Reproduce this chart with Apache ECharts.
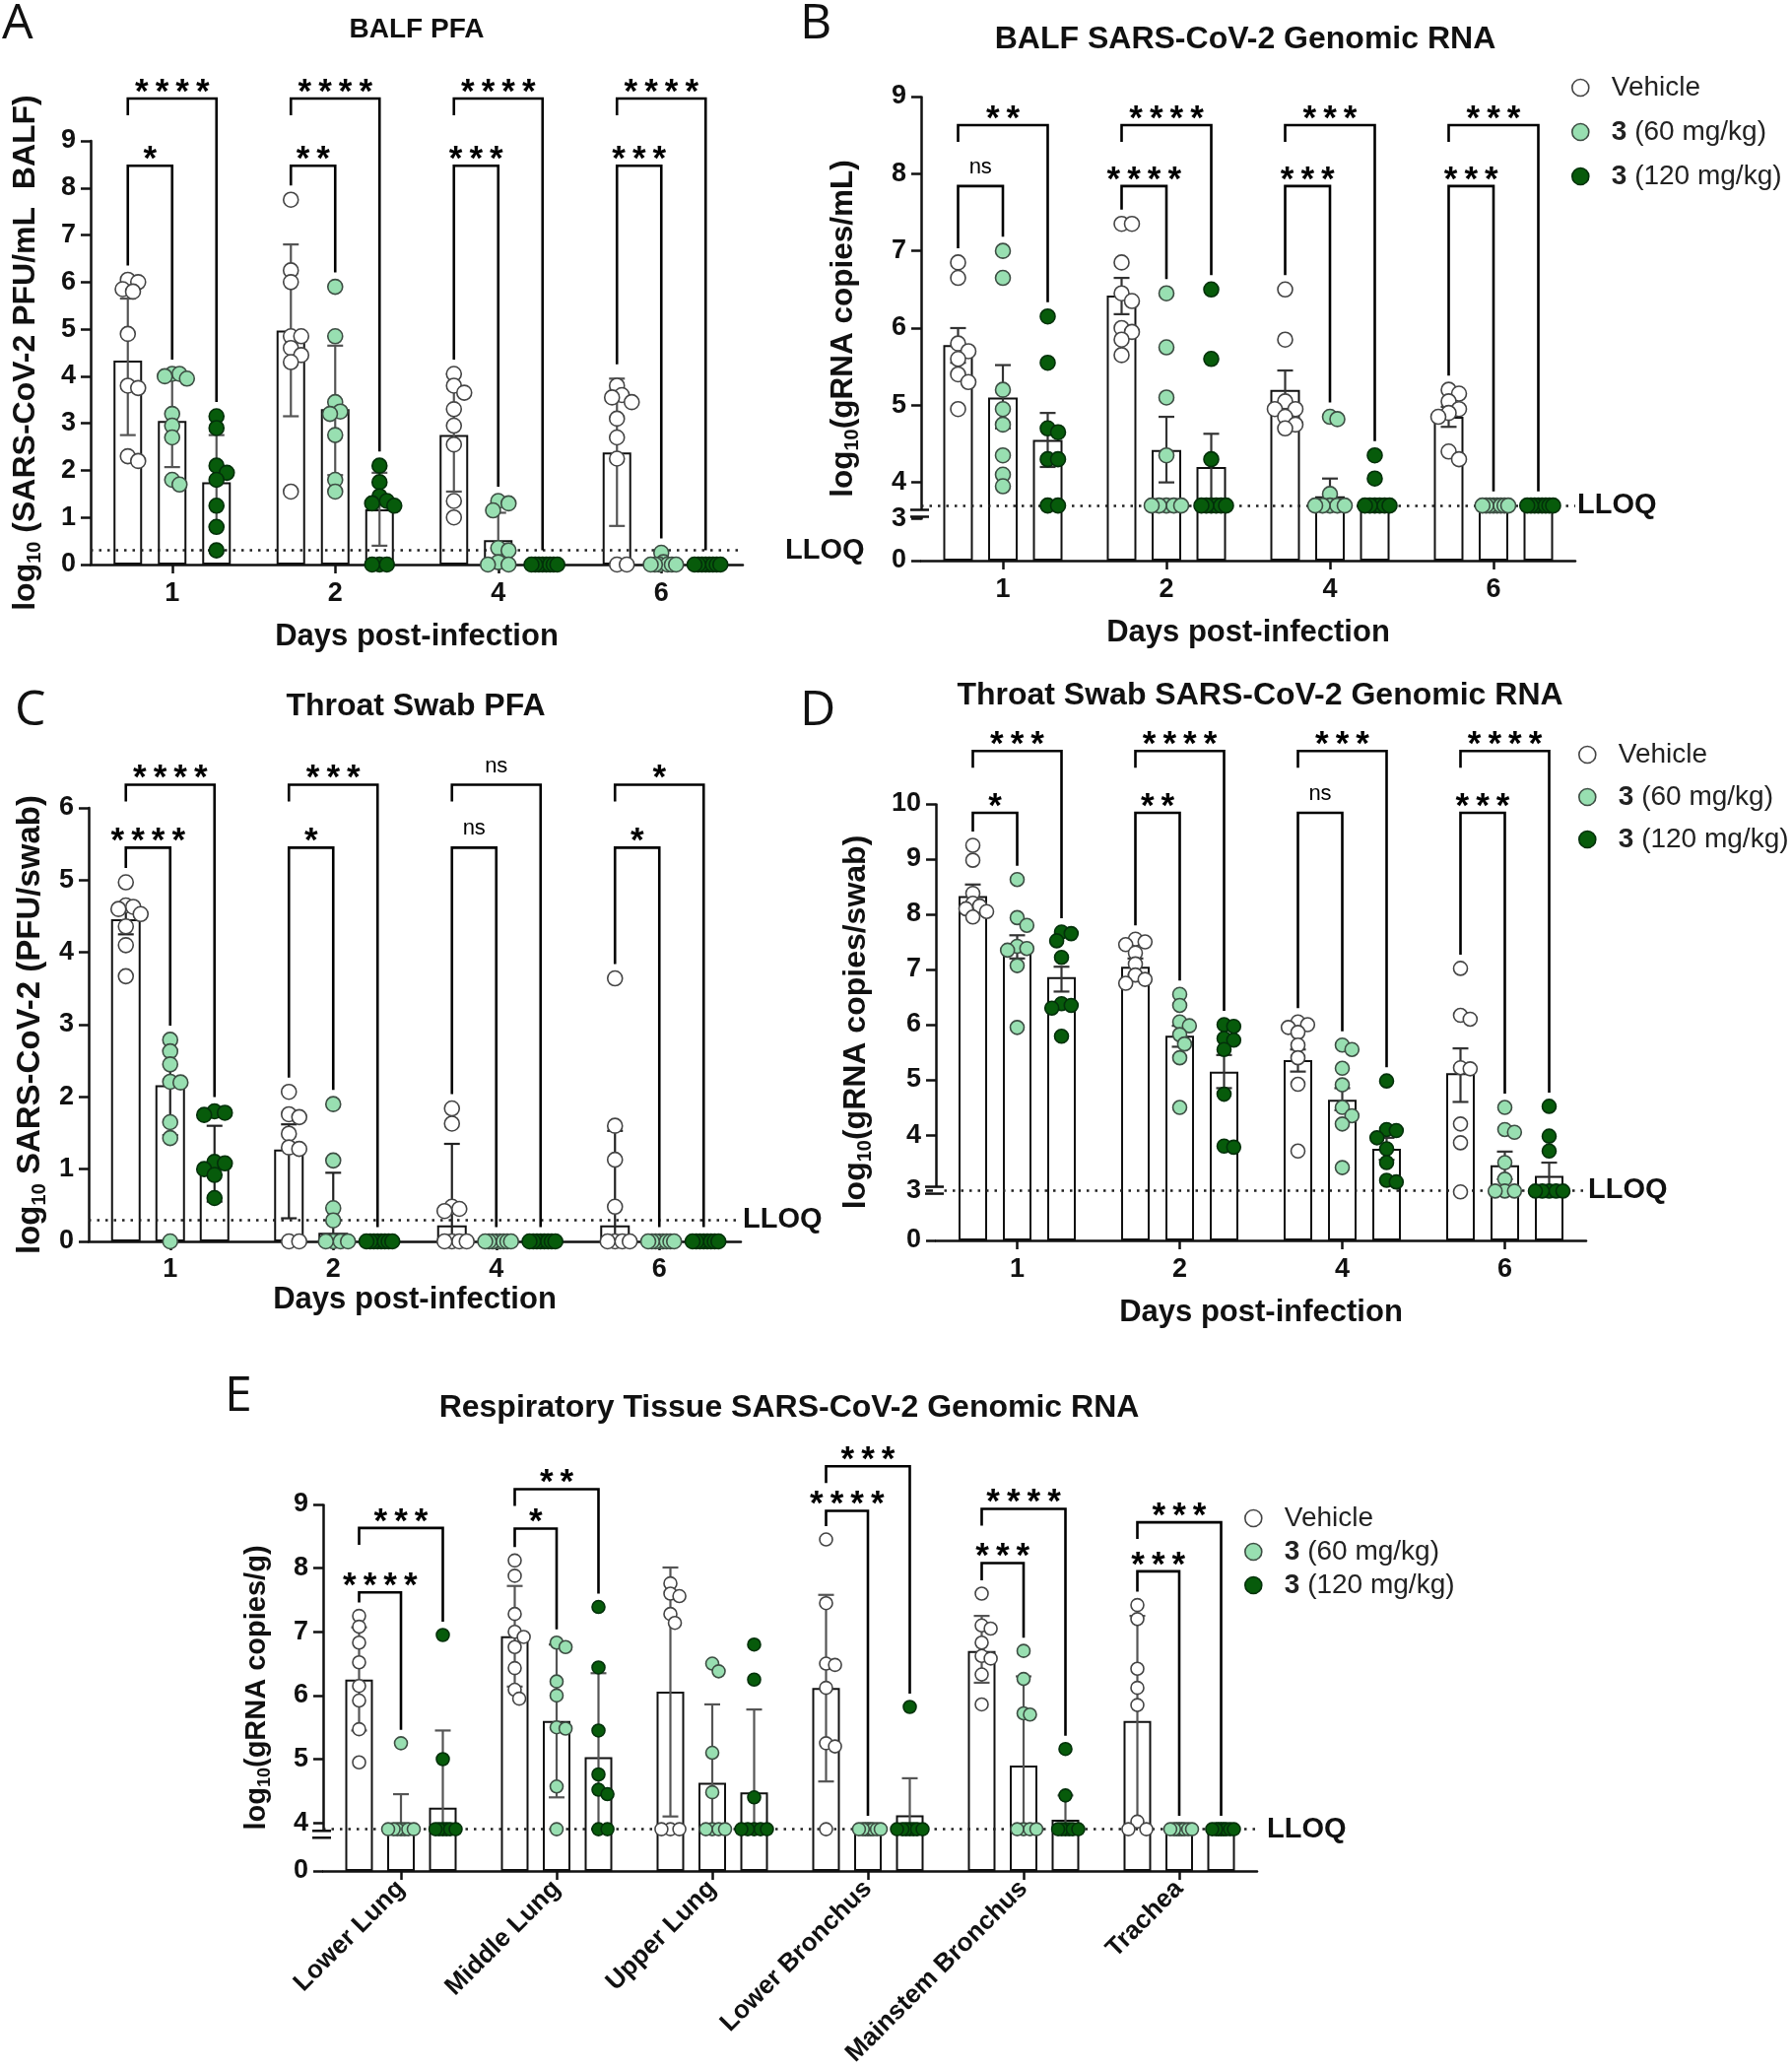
<!DOCTYPE html>
<html>
<head>
<meta charset="utf-8">
<script src="https://cdn.jsdelivr.net/npm/echarts@6.0.0/dist/echarts.min.js"></script>
<style>
html,body{margin:0;padding:0;background:#fff;}
#chart{width:1819px;height:2100px;}
</style>
</head>
<body>
<div id="chart"></div>
<script>
// ======================= DATA =======================
const days = ['1', '2', '4', '6'];
const tissues = ['Lower Lung', 'Middle Lung', 'Upper Lung', 'Lower Bronchus', 'Mainstem Bronchus', 'Trachea'];
const groupNames = ['Vehicle', '3 (60 mg/kg)', '3 (120 mg/kg)'];

// ---- Panel A: BALF PFA (log10 PFU/mL) ----
const A_yTicks = [0, 1, 2, 3, 4, 5, 6, 7, 8, 9];
const A_mean = [[4.33, 4.97, 2.75, 2.38], [3.05, 3.30, 0.52, 0.05], [1.75, 1.17, 0, 0]];
const A_lo   = [[2.75, 3.15, 1.55, 0.82], [2.07, 1.90, 0, 0], [0.80, 0.40, 0, 0]];
const A_hi   = [[5.65, 6.80, 4.05, 3.95], [4.05, 4.65, 1.10, 0.12], [2.75, 1.95, 0, 0]];
const A_pts = [
  [[6.05, 6.0, 5.85, 5.8, 4.9, 3.8, 3.75, 2.3, 2.2],
   [7.75, 6.25, 6.0, 4.85, 4.85, 4.6, 4.45, 4.3, 1.55],
   [4.05, 3.8, 3.65, 3.3, 2.95, 2.55, 1.35, 1.0],
   [3.8, 3.6, 3.55, 3.45, 3.1, 2.7, 2.25, 0, 0]],
  [[4.05, 4.05, 4.0, 3.95, 3.2, 2.95, 2.7, 1.8, 1.7],
   [5.9, 4.85, 3.45, 3.25, 3.2, 2.75, 1.8, 1.55],
   [1.35, 1.3, 1.15, 0.35, 0.3, 0.05, 0, 0],
   [0.25, 0.05, 0, 0, 0, 0, 0, 0]],
  [[3.15, 2.9, 2.1, 1.95, 1.8, 1.25, 0.8, 0.3],
   [2.1, 1.75, 1.45, 1.35, 1.3, 1.25, 0, 0, 0],
   [0, 0, 0, 0, 0, 0, 0, 0],
   [0, 0, 0, 0, 0, 0, 0, 0]]
];
const A_sig = [['*', '****'], ['**', '****'], ['***', '****'], ['***', '****']];
const A_sigLevel = [8.47, 9.9];
const A_lloq = 0.3;

// ---- Panel B: BALF genomic RNA (log10 copies/mL) ----
const B_yTicks = [0, 3, 4, 5, 6, 7, 8, 9];
const B_mean = [[5.78, 6.42, 5.20, 4.85], [5.10, 4.42, 3.82, 3.70], [4.55, 4.20, 3.72, 3.70]];
const B_lo   = [[5.55, 6.18, 4.95, 4.72], [4.70, 4.00, 3.70, 3.70], [4.20, 3.78, 3.70, 3.70]];
const B_hi   = [[6.00, 6.65, 5.45, 4.98], [5.52, 4.85, 4.05, 3.70], [4.90, 4.63, 3.78, 3.70]];
const B_pts = [
  [[6.85, 6.65, 5.8, 5.7, 5.6, 5.4, 5.3, 4.95],
   [7.35, 7.35, 6.85, 6.45, 6.35, 6.0, 5.95, 5.85, 5.65],
   [6.5, 5.85, 5.05, 4.95, 4.95, 4.85, 4.75, 4.7],
   [5.2, 5.15, 5.05, 4.95, 4.9, 4.85, 4.4, 4.3]],
  [[7.0, 6.65, 5.2, 4.95, 4.75, 4.35, 4.1, 3.95],
   [6.45, 5.75, 5.1, 4.35, 3.7, 3.7, 3.7, 3.7, 3.7],
   [4.85, 4.82, 3.85, 3.7, 3.7, 3.7, 3.7, 3.7],
   [3.7, 3.7, 3.7, 3.7, 3.7, 3.7, 3.7, 3.7]],
  [[6.15, 5.55, 4.7, 4.65, 4.3, 4.3, 3.7, 3.7],
   [6.5, 5.6, 4.3, 3.7, 3.7, 3.7, 3.7, 3.7, 3.7],
   [4.35, 4.05, 3.7, 3.7, 3.7, 3.7, 3.7, 3.7],
   [3.7, 3.7, 3.7, 3.7, 3.7, 3.7, 3.7, 3.7]]
];
const B_sig = [['ns', '**'], ['****', '****'], ['***', '***'], ['***', '***']];
const B_sigLevel = [7.84, 8.63];
const B_lloq = 3.7;

// ---- Panel C: Throat swab PFA (log10 PFU/swab) ----
const C_yTicks = [0, 1, 2, 3, 4, 5, 6];
const C_mean = [[4.46, 1.27, 0.22, 0.22], [2.16, 0.12, 0, 0], [1.07, 0, 0, 0]];
const C_lo   = [[4.25, 0.32, 0, 0], [1.47, 0, 0, 0], [0.55, 0, 0, 0]];
const C_hi   = [[4.65, 1.62, 1.35, 1.53], [2.65, 0.95, 0, 0], [1.60, 0, 0, 0]];
const C_pts = [
  [[4.97, 4.65, 4.63, 4.6, 4.53, 4.36, 4.1, 3.67],
   [2.07, 1.76, 1.72, 1.49, 1.3, 1.28, 0, 0],
   [1.84, 1.63, 0.48, 0.45, 0.42, 0, 0, 0, 0],
   [3.64, 1.6, 1.13, 0.48, 0, 0, 0, 0]],
  [[2.79, 2.63, 2.45, 2.21, 2.2, 1.65, 1.43, 0],
   [1.9, 1.12, 0.46, 0.29, 0, 0, 0, 0],
   [0, 0, 0, 0, 0, 0, 0, 0],
   [0, 0, 0, 0, 0, 0, 0, 0]],
  [[1.8, 1.78, 1.75, 1.1, 1.08, 1.0, 0.92, 0.6],
   [0, 0, 0, 0, 0, 0, 0, 0],
   [0, 0, 0, 0, 0, 0, 0, 0],
   [0, 0, 0, 0, 0, 0, 0, 0]]
];
const C_sig = [['****', '****'], ['*', '***'], ['ns', 'ns'], ['*', '*']];
const C_sigLevel = [5.45, 6.32];
const C_lloq = 0.3;

// ---- Panel D: Throat swab genomic RNA (log10 copies/swab) ----
const D_yTicks = [0, 3, 4, 5, 6, 7, 8, 9, 10];
const D_mean = [[8.33, 7.05, 5.36, 5.12], [7.41, 5.80, 4.64, 3.45], [6.86, 5.15, 3.75, 3.26]];
const D_lo   = [[8.15, 6.90, 5.15, 4.60], [7.20, 5.60, 4.45, 3.20], [6.60, 4.85, 3.55, 3.00]];
const D_hi   = [[8.54, 7.20, 5.55, 5.57], [7.62, 5.98, 4.85, 3.70], [7.05, 5.45, 3.95, 3.50]];
const D_pts = [
  [[9.25, 8.98, 8.38, 8.2, 8.15, 8.1, 8.05, 7.95],
   [7.55, 7.5, 7.45, 7.3, 7.1, 6.9, 6.82, 6.75],
   [6.05, 6.0, 5.95, 5.86, 5.63, 5.4, 4.92, 3.71],
   [7.02, 6.17, 6.1, 5.22, 5.2, 4.2, 3.86, 2.9]],
  [[8.63, 7.94, 7.8, 7.42, 7.38, 7.35, 7.07, 5.95],
   [6.55, 6.35, 6.05, 5.98, 5.82, 5.65, 5.4, 4.5],
   [5.63, 5.55, 5.21, 4.91, 4.5, 4.35, 4.2, 3.41],
   [4.5, 4.1, 4.05, 3.5, 3.2, 2.95, 2.95, 2.95]],
  [[7.68, 7.65, 7.52, 7.22, 6.38, 6.35, 6.3, 5.79],
   [6.0, 5.97, 5.75, 5.72, 5.55, 4.74, 3.8, 3.78],
   [4.98, 4.1, 4.08, 3.95, 3.75, 3.5, 3.18, 3.15],
   [4.52, 3.98, 3.71, 2.95, 2.95, 2.95, 2.95, 2.95]]
];
const D_sig = [['*', '***'], ['**', '****'], ['ns', '***'], ['***', '****']];
const D_sigLevel = [9.84, 10.96];
const D_lloq = 3.0;

// ---- Panel E: Respiratory tissue genomic RNA (log10 copies/g) ----
const E_yTicks = [0, 4, 5, 6, 7, 8, 9];
const E_mean = [[6.25, 6.93, 6.06, 6.12, 6.70, 5.60], [3.90, 5.60, 4.63, 3.90, 4.90, 3.90], [4.24, 5.03, 4.48, 4.12, 4.05, 3.90]];
const E_lo   = [[5.45, 6.14, 4.10, 4.65, 6.20, 3.95], [3.90, 4.40, 3.90, 3.90, 3.90, 3.90], [3.90, 3.90, 3.90, 3.90, 3.90, 3.90]];
const E_hi   = [[7.07, 7.72, 8.01, 7.58, 7.25, 7.25], [4.45, 6.80, 5.86, 3.90, 6.30, 3.90], [5.45, 6.35, 5.78, 4.70, 4.43, 3.90]];
const E_pts = [
  [[7.25, 7.08, 6.83, 6.52, 6.15, 5.92, 5.47, 4.95],
   [8.12, 7.88, 7.28, 7.0, 6.92, 6.76, 6.43, 6.09, 5.95],
   [7.76, 7.6, 7.56, 7.28, 7.14, 3.9, 3.9, 3.9],
   [8.45, 7.45, 6.5, 6.48, 6.12, 5.25, 5.2, 3.9],
   [7.6, 7.1, 7.05, 6.83, 6.62, 6.58, 6.33, 5.86],
   [7.42, 7.2, 6.42, 6.12, 5.85, 4.02, 3.9, 3.9]],
  [[5.25, 3.9, 3.9, 3.9, 3.9, 3.9, 3.9, 3.9],
   [6.83, 6.76, 6.22, 6.0, 5.5, 5.48, 4.57, 3.9],
   [6.5, 6.38, 5.1, 4.48, 3.9, 3.9, 3.9, 3.9],
   [3.9, 3.9, 3.9, 3.9, 3.9, 3.9, 3.9, 3.9],
   [6.7, 6.26, 5.72, 5.7, 3.9, 3.9, 3.9, 3.9],
   [3.9, 3.9, 3.9, 3.9, 3.9, 3.9, 3.9, 3.9]],
  [[6.95, 5.0, 3.9, 3.9, 3.9, 3.9, 3.9, 3.9],
   [7.39, 6.44, 5.45, 4.76, 4.52, 4.45, 3.9, 3.9],
   [6.8, 6.25, 4.4, 3.9, 3.9, 3.9, 3.9, 3.9],
   [5.82, 3.9, 3.9, 3.9, 3.9, 3.9, 3.9, 3.9],
   [5.16, 4.43, 3.9, 3.9, 3.9, 3.9, 3.9, 3.9],
   [3.9, 3.9, 3.9, 3.9, 3.9, 3.9, 3.9, 3.9]]
];
const E_sig = [['****', '***'], ['*', '**'], null, ['****', '***'], ['***', '****'], ['***', '***']];
const E_sigLevel = [[7.62, 8.63], [8.62, 9.24], null, [8.9, 9.6], [8.08, 8.93], [7.95, 8.72]];
const E_lloq = 3.9;

// ======================= STYLE / LAYOUT =======================
const FONT = '"Liberation Sans", Arial, Helvetica, sans-serif';
const DOT_STYLE = [
  { fill: '#ffffff', stroke: '#444444' },
  { fill: '#98dfb1', stroke: '#3d4d43' },
  { fill: '#075b0b', stroke: '#03300a' }
];
const ynm = (rest) => '{a|log}{s|10}{a|' + rest + '}';

const PANELS = [
  { cats: days, ticks: A_yTicks, mean: A_mean, lo: A_lo, hi: A_hi, pts: A_pts, sig: A_sig, lvl: A_sigLevel, lloq: A_lloq,
    L: { left: 92, top: 143, width: 662, height: 430, max: 9, breaks: null, floor: 0,
         barW: 29, step: 45, dot: 15, ppu: 47.8, maxOff: 15, err: '#555',
         yName: ynm(' (SARS-CoV-2 PFU/mL  BALF)'), yNameSize: 32, yNameGap: 47,
         xName: 'Days post-infection', xNameGap: 58, xLabelSize: 27, xLabelMargin: 16, rot: 0, lloqDist: 43 } },
  { cats: days, ticks: B_yTicks, mean: B_mean, lo: B_lo, hi: B_hi, pts: B_pts, sig: B_sig, lvl: B_sigLevel, lloq: B_lloq,
    L: { left: 935, top: 98, width: 664, height: 471, max: 9, floor: 3.7,
         breaks: [{ start: 0, end: 3, gap: '9.1%' }, { start: 3.05, end: 3.62, gap: '0.6%' }], breakMark: 3.3,
         barW: 30, step: 45.5, dot: 15, ppu: 78.3, maxOff: 15, err: '#333',
         yName: ynm('(gRNA copies/mL)'), yNameSize: 31.5, yNameGap: 60,
         xName: 'Days post-infection', xNameGap: 58, xLabelSize: 27, xLabelMargin: 16, rot: 0, lloqDist: 2,
         legend: { left: 1590, top: 70, gap: 17 } } },
  { cats: days, ticks: C_yTicks, mean: C_mean, lo: C_lo, hi: C_hi, pts: C_pts, sig: C_sig, lvl: C_sigLevel, lloq: C_lloq,
    L: { left: 90, top: 820, width: 662, height: 440, max: 6, breaks: null, floor: 0,
         barW: 30, step: 45, dot: 15, ppu: 73.3, maxOff: 15, err: '#222',
         yName: ynm(' SARS-CoV-2 (PFU/swab)'), yNameSize: 33, yNameGap: 40,
         xName: 'Days post-infection', xNameGap: 44, xLabelSize: 27, xLabelMargin: 15, rot: 0, lloqDist: 2 } },
  { cats: days, ticks: D_yTicks, mean: D_mean, lo: D_lo, hi: D_hi, pts: D_pts, sig: D_sig, lvl: D_sigLevel, lloq: D_lloq,
    L: { left: 950, top: 816, width: 660, height: 443, max: 10, floor: 2.95,
         breaks: [{ start: 0, end: 3, gap: '11.5%' }], breakMark: 3,
         barW: 29, step: 45, dot: 14, ppu: 56, maxOff: 14, err: '#333',
         yName: ynm('(gRNA copies/swab)'), yNameSize: 32, yNameGap: 62,
         xName: 'Days post-infection', xNameGap: 58, xLabelSize: 27, xLabelMargin: 16, rot: 0, lloqDist: 2,
         legend: { left: 1597, top: 747, gap: 15 } } },
  { cats: tissues, ticks: E_yTicks, mean: E_mean, lo: E_lo, hi: E_hi, pts: E_pts, sig: E_sig, lvl: E_sigLevel, lloq: E_lloq,
    L: { left: 328, top: 1527, width: 948, height: 372, max: 9, floor: 3.9,
         breaks: [{ start: 0, end: 3.82, gap: '10%' }], breakMark: 3.82,
         barW: 28, step: 42.5, dot: 13, ppu: 64.6, maxOff: 13, err: '#555',
         yName: ynm('(gRNA copies/g)'), yNameSize: 29, yNameGap: 50,
         xName: '', xNameGap: 0, xLabelSize: 26, xLabelMargin: 14, rot: 45, lloqDist: 10,
         legend: { left: 1258, top: 1522, gap: 6 } } }
];

// beeswarm-style horizontal spread of overlapping dots (layout only)
function swarm(vals, ppu, d, maxOff) {
  const minD = 0.7 * d, st = 0.35 * d;
  const placed = [], offs = [];
  vals.forEach(v => {
    const y = v * ppu;
    let chosen = 0;
    for (let k = 0; k < 60; k++) {
      const m = k === 0 ? 0 : (k % 2 ? 1 : -1) * Math.ceil(k / 2);
      const x = m * st;
      if (placed.every(p => Math.hypot(p[0] - x, p[1] - y) >= minD)) { chosen = x; break; }
    }
    placed.push([chosen, y]);
    offs.push(chosen);
  });
  const mx = Math.max(0, ...offs.map(Math.abs));
  const s = mx > maxOff ? maxOff / mx : 1;
  return offs.map(o => o * s);
}
function colMax(P, g, c) {
  return Math.max(P.mean[g][c], P.hi[g][c], ...P.pts[g][c]);
}

// ======================= OPTION =======================
const option = {
  animation: false,
  backgroundColor: '#ffffff',
  grid: [], xAxis: [], yAxis: [], series: [], legend: []
};

PANELS.forEach((P, pi) => {
  const L = P.L;
  const ax = { xAxisIndex: pi, yAxisIndex: pi };
  option.grid.push({ left: L.left, top: L.top, width: L.width, height: L.height });
  option.xAxis.push({
    type: 'category', gridIndex: pi, data: P.cats,
    name: L.xName, nameLocation: 'middle', nameGap: L.xNameGap,
    nameTextStyle: { fontFamily: FONT, fontWeight: 'bold', fontSize: 31, color: '#111' },
    axisLine: { show: true, lineStyle: { color: '#111', width: 2.5 } },
    axisTick: { show: true, alignWithLabel: true, length: 9, lineStyle: { color: '#111', width: 2.5 } },
    axisLabel: { interval: 0, rotate: L.rot, margin: L.xLabelMargin, fontFamily: FONT, fontWeight: 'bold',
                 fontSize: L.xLabelSize, color: '#111' },
    splitLine: { show: false }
  });
  const y = {
    type: 'value', gridIndex: pi, min: 0, max: L.max, interval: 1,
    name: L.yName, nameLocation: 'middle', nameRotate: 90, nameGap: L.yNameGap,
    nameTextStyle: {
      rich: {
        a: { fontFamily: FONT, fontWeight: 'bold', fontSize: L.yNameSize, color: '#111', lineHeight: L.yNameSize + 6 },
        s: { fontFamily: FONT, fontWeight: 'bold', fontSize: Math.round(L.yNameSize * 0.62), color: '#111',
             lineHeight: L.yNameSize + 6, verticalAlign: 'bottom' }
      }
    },
    axisLine: { show: true, lineStyle: { color: '#111', width: 2.5 } },
    axisTick: { show: true, length: 10, customValues: P.ticks, lineStyle: { color: '#111', width: 2.5 } },
    axisLabel: { margin: 15, customValues: P.ticks, fontFamily: FONT, fontWeight: 'bold', fontSize: 27, color: '#111',
                 formatter: (v) => String(Math.round(v)) },
    splitLine: { show: false }
  };
  if (L.breaks) { y.breaks = L.breaks; y.breakArea = { show: false }; }
  option.yAxis.push(y);

  // bars (means)
  const gapPct = ((L.step - L.barW) / L.barW * 100).toFixed(1) + '%';
  for (let g = 0; g < 3; g++) {
    const s = {
      type: 'bar', name: groupNames[g] + ' mean', ...ax, data: P.mean[g],
      barWidth: L.barW, barGap: gapPct, z: 2, silent: true,
      itemStyle: { color: '#ffffff', borderColor: '#111', borderWidth: 2 }
    };
    if (g === 0) {
      s.markLine = {
        silent: true, symbol: ['none', 'none'], animation: false,
        data: [{ yAxis: P.lloq }],
        lineStyle: { type: [2.5, 6], color: '#222', width: 2.5 },
        label: { show: true, position: 'end', formatter: 'LLOQ', distance: L.lloqDist,
                 fontFamily: FONT, fontWeight: 'bold', fontSize: 29, color: '#111' }
      };
    }
    option.series.push(s);
  }

  // error bars
  const errData = [];
  for (let g = 0; g < 3; g++) {
    P.cats.forEach((_, c) => {
      if (P.hi[g][c] - P.lo[g][c] > 0.005) errData.push([c, g, P.lo[g][c], P.hi[g][c]]);
    });
  }
  option.series.push({
    type: 'custom', name: 'err' + pi, ...ax, data: errData, encode: { x: 0, y: [2, 3] }, z: 3, silent: true,
    renderItem: (params, api) => {
      const c = api.value(0), g = api.value(1), lo = api.value(2), hi = api.value(3);
      const x = api.coord([c, 0])[0] + (g - 1) * L.step;
      const yh = api.coord([c, hi])[1], yl = api.coord([c, lo])[1];
      const st = { stroke: L.err, lineWidth: 2.2 };
      const ch = [
        { type: 'line', shape: { x1: x, y1: yl, x2: x, y2: yh }, style: st },
        { type: 'line', shape: { x1: x - 8, y1: yh, x2: x + 8, y2: yh }, style: st }
      ];
      if (lo > L.floor + 1e-6) ch.push({ type: 'line', shape: { x1: x - 8, y1: yl, x2: x + 8, y2: yl }, style: st });
      return { type: 'group', children: ch };
    }
  });

  // individual animals
  for (let g = 0; g < 3; g++) {
    const data = [];
    P.pts[g].forEach((vals, c) => {
      const offs = swarm(vals, L.ppu, L.dot, L.maxOff);
      vals.forEach((v, i) => data.push([c, v, offs[i]]));
    });
    const ds = DOT_STYLE[g];
    option.series.push({
      type: 'custom', name: groupNames[g], ...ax, data, encode: { x: 0, y: 1 }, z: 5,
      renderItem: (params, api) => {
        const p = api.coord([api.value(0), api.value(1)]);
        return { type: 'circle', shape: { cx: p[0] + (g - 1) * L.step + api.value(2), cy: p[1], r: L.dot / 2 },
                 style: { fill: ds.fill, stroke: ds.stroke, lineWidth: 1.6 } };
      }
    });
  }

  // significance brackets
  const brData = [];
  P.sig.forEach((s, c) => {
    if (!s) return;
    const lv = Array.isArray(P.lvl[0]) || P.lvl[0] === null ? P.lvl[c] : P.lvl;
    brData.push([c, 0, 1, lv[0], 0]);
    brData.push([c, 0, 2, lv[1], 1]);
  });
  option.series.push({
    type: 'custom', name: 'sig' + pi, ...ax, data: brData, encode: { x: 0, y: 3 }, z: 6, silent: true,
    renderItem: (params, api) => {
      const c = api.value(0), a = api.value(1), b = api.value(2), lv = api.value(3), w = api.value(4);
      const cx = api.coord([c, 0])[0];
      const xa = cx + (a - 1) * L.step, xb = cx + (b - 1) * L.step;
      const yTop = api.coord([c, lv])[1];
      const colTop = (g) => api.coord([c, colMax(P, g, c)])[1] - L.dot / 2 - 7;
      let yA = w === 1 ? yTop + 17 : colTop(a);
      let yB = colTop(b);
      yA = Math.max(yA, yTop + 8); yB = Math.max(yB, yTop + 8);
      const label = P.sig[c][w];
      const ns = label === 'ns';
      return {
        type: 'group', children: [
          { type: 'polyline', shape: { points: [[xa, yA], [xa, yTop], [xb, yTop], [xb, yB]] },
            style: { stroke: '#000', lineWidth: 2.6, fill: null } },
          { type: 'text', style: {
              x: (xa + xb) / 2, y: ns ? yTop - 19 : yTop - 6,
              text: ns ? 'ns' : label.split('').join('\u2009'),
              font: ns ? '22px ' + FONT : 'bold 35px ' + FONT,
              fill: '#000', textAlign: 'center', textVerticalAlign: 'middle' } }
        ]
      };
    }
  });

  // legend
  if (L.legend) {
    option.legend.push({
      orient: 'vertical', left: L.legend.left, top: L.legend.top, itemGap: L.legend.gap,
      itemWidth: 17, itemHeight: 17, selectedMode: false,
      data: groupNames.map((n, g) => ({ name: n, icon: 'circle',
        itemStyle: { color: DOT_STYLE[g].fill, borderColor: DOT_STYLE[g].stroke, borderWidth: 1.6 } })),
      formatter: (name) => name.indexOf('3 ') === 0 ? '{b|3}{r| ' + name.slice(2) + '}' : '{r|' + name + '}',
      textStyle: {
        padding: [0, 0, 0, 18],
        rich: {
          b: { fontFamily: FONT, fontWeight: 'bold', fontSize: 28, color: '#222' },
          r: { fontFamily: FONT, fontSize: 28, color: '#222' }
        }
      }
    });
  }
});

const chart = echarts.init(document.getElementById('chart'), null, { renderer: 'canvas' });
chart.setOption(option);

// ======================= TITLES, LETTERS, BREAK MARKS =======================
const TITLE_FONT = 'bold 32px ' + FONT;
const LETTER_FONT = '50px "Open Sans", "Noto Sans", sans-serif';
const texts = [
  { t: 'A', x: 2, y: 25, font: LETTER_FONT, align: 'left' },
  { t: 'BALF PFA', x: 423, y: 30, font: 'bold 28px ' + FONT, align: 'center' },
  { t: 'B', x: 812, y: 25, font: LETTER_FONT, align: 'left' },
  { t: 'BALF SARS-CoV-2 Genomic RNA', x: 1264, y: 40, font: TITLE_FONT, align: 'center' },
  { t: 'C', x: 15, y: 722, font: LETTER_FONT, align: 'left' },
  { t: 'Throat Swab PFA', x: 422, y: 717, font: TITLE_FONT, align: 'center' },
  { t: 'D', x: 812, y: 722, font: LETTER_FONT, align: 'left' },
  { t: 'Throat Swab SARS-CoV-2 Genomic RNA', x: 1279, y: 706, font: TITLE_FONT, align: 'center' },
  { t: 'E', x: 228, y: 1418, font: LETTER_FONT, align: 'left' },
  { t: 'Respiratory Tissue SARS-CoV-2 Genomic RNA', x: 801, y: 1429, font: TITLE_FONT, align: 'center' }
];
const graphics = texts.map((d, i) => ({
  type: 'text', id: 'txt' + i, x: d.x, y: d.y, z: 10,
  style: { text: d.t, font: d.font, fill: '#111', textAlign: d.align, textVerticalAlign: 'middle' }
}));
PANELS.forEach((P, pi) => {
  if (P.L.breakMark == null) return;
  const yy = chart.convertToPixel({ yAxisIndex: pi }, P.L.breakMark);
  const xx = P.L.left;
  graphics.push({ type: 'rect', id: 'bkw' + pi, z: 20, shape: { x: xx - 3, y: yy - 3, width: 6, height: 6 }, style: { fill: '#fff' } });
  graphics.push({ type: 'line', id: 'bk1' + pi, z: 21, shape: { x1: xx - 11, y1: yy - 3.5, x2: xx + 8, y2: yy - 3.5 }, style: { stroke: '#111', lineWidth: 2.5 } });
  graphics.push({ type: 'line', id: 'bk2' + pi, z: 21, shape: { x1: xx - 11, y1: yy + 3.5, x2: xx + 8, y2: yy + 3.5 }, style: { stroke: '#111', lineWidth: 2.5 } });
});
chart.setOption({ graphic: graphics });
</script>
</body>
</html>
